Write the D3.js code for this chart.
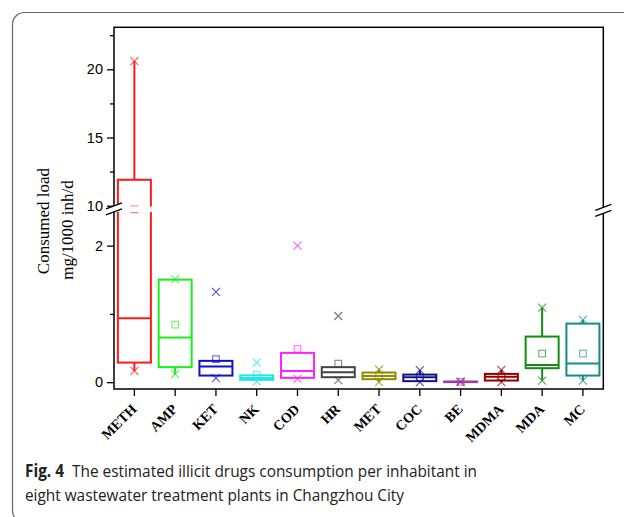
<!DOCTYPE html>
<html>
<head>
<meta charset="utf-8">
<script src="https://cdnjs.cloudflare.com/ajax/libs/d3/7.8.5/d3.min.js"></script>
<style>
  body { margin: 0; background: #fff; }
  .tick line { stroke: #000; stroke-width: 1.3; }
</style>
</head>
<body>
<div id="chart"></div>
<script>
// drugs on the x axis
var drugs = ["METH", "AMP", "KET", "NK", "COD", "HR", "MET", "COC", "BE", "MDMA", "MDA", "MC"];
// box: 25th / 50th / 75th percentile, mg/1000 inh/d
var q1 = [0.287, 0.22, 0.097, 0.034, 0.063, 0.073, 0.044, 0.015, 0.002, 0.024, 0.205, 0.097];
var medians = [0.937, 0.653, 0.228, 0.06, 0.165, 0.146, 0.092, 0.073, 0.005, 0.078, 0.253, 0.272];
var q3 = [11.9, 1.502, 0.312, 0.10, 0.429, 0.22, 0.141, 0.111, 0.008, 0.121, 0.668, 0.858];
var means = [9.8, 0.843, 0.337, 0.11, 0.487, 0.272, 0.095, 0.07, 0.005, 0.08, 0.419, 0.419];
// whisker ends
var whiskerLow = [0.165, 0.117, 0.097, 0.034, 0.063, 0.073, 0.0, 0.0, 0.0, 0.0, 0.023, 0.023];
var whiskerHigh = [20.6, 1.51, 0.312, 0.10, 0.429, 0.22, 0.185, 0.176, 0.01, 0.18, 1.092, 0.912];
// cross markers (min / max)
var minVals = [0.165, 0.117, 0.06, 0.01, 0.048, 0.03, 0.0, 0.0, 0.0, 0.0, 0.023, 0.023];
var maxVals = [20.6, 1.51, 1.322, 0.287, 2.0, 0.97, 0.185, 0.176, 0.01, 0.18, 1.092, 0.912];
var colors = ["#ff1a1a", "#1aee1a", "#1010cc", "#22e5e5", "#ff22ff", "#444444",
  "#8c8c00", "#10108c", "#a03ca0", "#900000", "#138c13", "#138c8c"];
// broken y axis ticks
var upperTicks = [10, 15, 20];
var upperMinor = [12.5, 17.5, 22.5];
var lowerTicks = [0, 2];
var lowerMinor = [1];

var W = 624, H = 517;
var margin = { top: 27.3, right: 20.7, bottom: 128, left: 114 },
  width = W - margin.left - margin.right,
  height = H - margin.top - margin.bottom;

var svg = d3.select("#chart")
  .append("svg")
  .attr("width", W)
  .attr("height", H);

// rounded figure border
svg.append("rect")
  .attr("x", 12.5).attr("y", 12.5)
  .attr("width", 700).attr("height", 510)
  .attr("rx", 12)
  .attr("fill", "none")
  .attr("stroke", "#666")
  .attr("stroke-width", 1.2);

var g = svg.append("g")
  .attr("transform", "translate(" + margin.left + "," + margin.top + ")");

var x = d3.scaleBand()
  .domain(drugs)
  .range([0, width]);

// two parts of the broken axis
var yUpper = d3.scaleLinear().domain([10, 23.08]).range([178.4, 0]);
var yLower = d3.scaleLinear().domain([-0.1, 2.5]).range([height, 184.2]);
var gapMid = 182;

function y(v) {
  if (v >= 10) return yUpper(v);
  if (v <= 2.5) return yLower(v);
  return gapMid;
}

function cx(i) { return x(drugs[i]) + x.bandwidth() / 2; }

var boxW = 33;

// y axis parts
var axisFont = "'Liberation Sans', Arial, sans-serif";
[[yUpper, upperTicks, upperMinor], [yLower, lowerTicks, lowerMinor]].forEach(function (p) {
  var major = g.append("g")
    .call(d3.axisLeft(p[0]).tickValues(p[1]).tickSize(7).tickPadding(4).tickFormat(d3.format("d")));
  major.select(".domain").remove();
  major.selectAll("text")
    .style("font-family", axisFont)
    .style("font-size", "14.5px")
    .attr("fill", "#000");
  var minor = g.append("g")
    .call(d3.axisLeft(p[0]).tickValues(p[2]).tickSize(4).tickFormat(""));
  minor.select(".domain").remove();
});

// x axis
var xAxis = g.append("g")
  .attr("transform", "translate(0," + height + ")")
  .call(d3.axisBottom(x).tickSize(7).tickSizeOuter(0));
xAxis.select(".domain").remove();
xAxis.selectAll("text")
  .attr("x", 0).attr("y", 0).attr("dy", 0)
  .attr("transform", "translate(3,21)rotate(-45)")
  .style("text-anchor", "end")
  .style("font-family", "'Liberation Serif', 'Times New Roman', serif")
  .style("font-weight", "bold")
  .style("font-size", "14px")
  .attr("fill", "#000");

// boxes
var boxes = g.selectAll(".box")
  .data(drugs)
  .enter()
  .append("g")
  .attr("class", "box");

boxes.append("line")
  .attr("x1", function (d, i) { return cx(i); })
  .attr("x2", function (d, i) { return cx(i); })
  .attr("y1", function (d, i) { return y(q3[i]); })
  .attr("y2", function (d, i) { return y(whiskerHigh[i]); })
  .attr("stroke", function (d, i) { return colors[i]; })
  .attr("stroke-width", 2);

boxes.append("line")
  .attr("x1", function (d, i) { return cx(i); })
  .attr("x2", function (d, i) { return cx(i); })
  .attr("y1", function (d, i) { return y(q1[i]); })
  .attr("y2", function (d, i) { return y(whiskerLow[i]); })
  .attr("stroke", function (d, i) { return colors[i]; })
  .attr("stroke-width", 2);

boxes.append("rect")
  .attr("x", function (d, i) { return cx(i) - boxW / 2; })
  .attr("y", function (d, i) { return y(q3[i]); })
  .attr("width", boxW)
  .attr("height", function (d, i) { return Math.max(0.5, y(q1[i]) - y(q3[i])); })
  .attr("fill", "none")
  .attr("stroke", function (d, i) { return colors[i]; })
  .attr("stroke-width", 2);

boxes.append("line")
  .attr("x1", function (d, i) { return cx(i) - boxW / 2; })
  .attr("x2", function (d, i) { return cx(i) + boxW / 2; })
  .attr("y1", function (d, i) { return y(medians[i]); })
  .attr("y2", function (d, i) { return y(medians[i]); })
  .attr("stroke", function (d, i) { return colors[i]; })
  .attr("stroke-width", 2);

// break band over the plot
g.append("rect")
  .attr("x", 1).attr("y", 179.2)
  .attr("width", width - 2).attr("height", 5.5)
  .attr("fill", "#fff");

// mean squares
boxes.append("rect")
  .attr("x", function (d, i) { return cx(i) - 3.3; })
  .attr("y", function (d, i) { return y(means[i]) - 3.3; })
  .attr("width", 6.6).attr("height", 6.6)
  .attr("fill", "none")
  .attr("stroke", function (d, i) { return colors[i]; })
  .attr("stroke-opacity", 0.65)
  .attr("stroke-width", 1.1);

// cross markers
function cross(sel, vals) {
  sel.append("path")
    .attr("d", function (d, i) {
      var px = cx(i), py = y(vals[i]), s = 4;
      return "M" + (px - s) + "," + (py - s) + "L" + (px + s) + "," + (py + s) +
        "M" + (px - s) + "," + (py + s) + "L" + (px + s) + "," + (py - s);
    })
    .attr("stroke", function (d, i) { return colors[i]; })
    .attr("stroke-opacity", 0.7)
    .attr("stroke-width", 1.2)
    .attr("fill", "none");
}
cross(boxes, minVals);
cross(boxes, maxVals);

// frame
g.append("rect")
  .attr("width", width).attr("height", height)
  .attr("fill", "none")
  .attr("stroke", "#000")
  .attr("stroke-width", 1.5);

// break marks on both axes
function breakMark(x0, c) {
  g.append("path")
    .attr("d", "M" + (x0 - 8) + "," + (c + 1) + "L" + (x0 + 8) + "," + (c - 5) +
      "L" + (x0 + 8) + "," + (c + 1) + "L" + (x0 - 8) + "," + (c + 7) + "Z")
    .attr("fill", "#fff");
  g.append("path")
    .attr("d", "M" + (x0 - 8) + "," + (c + 1) + "L" + (x0 + 8) + "," + (c - 5) +
      "M" + (x0 - 8) + "," + (c + 7) + "L" + (x0 + 8) + "," + (c + 1))
    .attr("stroke", "#000")
    .attr("stroke-width", 1.3)
    .attr("fill", "none");
}
breakMark(0, 180.5);
breakMark(width, 182);

// y axis title
var yFont = "'Liberation Serif', 'Times New Roman', serif";
svg.append("text")
  .attr("transform", "translate(49,221)rotate(-90)")
  .style("font-family", yFont)
  .style("font-size", "17px")
  .attr("text-anchor", "middle")
  .text("Consumed load");
svg.append("text")
  .attr("transform", "translate(73,230)rotate(-90)")
  .style("font-family", yFont)
  .style("font-size", "17px")
  .attr("text-anchor", "middle")
  .text("mg/1000 inh/d");

// caption
var capFont = "'Open Sans', 'Noto Sans', sans-serif";
var cap1 = svg.append("text")
  .attr("x", 25).attr("y", 477)
  .attr("textLength", 452)
  .attr("lengthAdjust", "spacingAndGlyphs")
  .style("font-family", capFont)
  .style("font-size", "17px")
  .attr("fill", "#222");
cap1.append("tspan").style("font-weight", "bold").text("Fig. 4");
cap1.append("tspan").text("\u00a0 The estimated illicit drugs consumption per inhabitant in");
svg.append("text")
  .attr("x", 25).attr("y", 501)
  .attr("textLength", 379)
  .attr("lengthAdjust", "spacingAndGlyphs")
  .style("font-family", capFont)
  .style("font-size", "17px")
  .attr("fill", "#222")
  .text("eight wastewater treatment plants in Changzhou City");
</script>
</body>
</html>
